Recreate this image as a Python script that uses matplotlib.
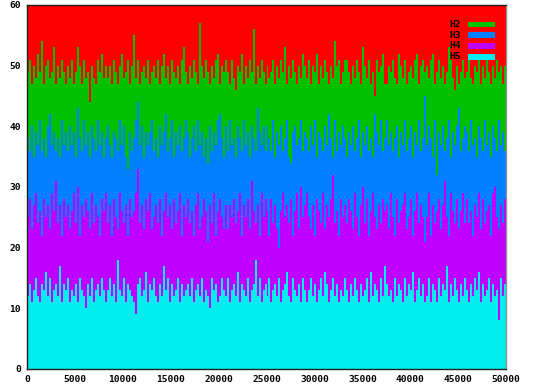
import numpy as np
import matplotlib
matplotlib.use("Agg")
import matplotlib.pyplot as plt
from matplotlib.patches import Rectangle

x_max = 50000
y_max = 60
x_ticks = [0, 5000, 10000, 15000, 20000, 25000, 30000, 35000, 40000, 45000, 50000]
y_ticks = [0, 10, 20, 30, 40, 50, 60]
labels = ["H2", "H3", "H4", "H5"]
colors = {"H1": "#ff0000", "H2": "#00c000", "H3": "#0080ff", "H4": "#c000ff", "H5": "#00eeee"}

# cumulative (stacked) top of each series
top_H5 = [12,14,11,13,15,12,11,14,13,16,12,15,11,13,14,12,17,11,14,13,
          15,11,13,12,14,11,15,13,12,10,14,12,15,11,13,14,12,15,13,11,
          13,15,12,14,11,18,13,12,15,11,14,13,12,11,9,14,15,12,13,16,
          11,14,13,15,12,11,14,12,17,13,15,11,14,12,13,15,11,14,12,13,
          14,12,15,11,13,14,12,15,11,13,12,10,15,13,14,11,12,15,13,12,
          15,11,13,14,12,16,11,14,13,12,15,11,13,14,18,12,15,11,13,14,
          12,15,11,13,14,12,15,11,13,14,16,12,11,15,13,12,14,11,15,13,
          11,13,15,12,14,11,13,15,12,16,14,11,13,15,12,14,11,13,12,15,
          13,11,14,12,15,13,11,14,12,13,15,11,16,12,14,13,11,15,12,17,
          14,12,13,11,15,12,14,13,11,15,12,14,13,16,11,13,15,12,14,11,
          12,15,11,14,13,11,15,12,14,13,17,11,14,12,15,13,11,14,12,15,
          13,11,14,12,15,13,16,11,14,12,13,15,11,14,12,13,8,15,12,14]
top_H4 = [25,28,23,27,29,24,26,22,28,25,27,23,29,26,31,24,27,22,28,25,
          27,23,26,29,24,30,22,27,25,28,26,23,29,24,27,25,22,28,26,29,
          24,27,22,28,25,23,29,26,24,27,22,28,25,26,29,33,24,27,23,28,
          26,29,23,25,27,24,28,22,26,29,25,27,23,28,24,26,29,22,27,25,
          28,24,26,22,27,29,23,25,28,26,21,27,24,29,22,26,28,25,23,27,
          23,27,25,28,24,26,29,22,27,25,28,23,31,26,24,27,22,29,25,28,
          26,22,28,24,27,23,20,26,29,25,27,24,28,22,26,29,23,30,25,27,
          29,25,23,27,22,28,26,24,29,23,27,25,28,32,24,26,22,28,25,27,
          24,28,26,23,29,25,22,27,30,24,28,22,26,29,25,23,27,24,28,26,
          27,23,29,25,22,28,24,26,27,29,23,25,28,22,26,29,24,27,25,21,
          25,29,22,27,24,26,28,23,27,31,25,22,29,26,24,28,23,26,29,24,
          28,24,26,22,27,25,29,23,28,24,26,27,22,29,30,25,23,27,24,28]
top_H3 = [38,36,40,35,39,37,41,36,38,35,40,42,37,39,36,38,35,41,37,39,
          36,40,37,39,35,43,38,36,41,37,39,35,40,38,36,41,37,39,35,38,
          40,37,35,39,38,36,41,37,40,35,33,39,36,38,41,44,37,40,35,39,
          37,39,41,36,38,35,40,37,39,42,36,38,41,35,39,37,40,36,38,41,
          39,35,38,40,36,41,37,39,35,38,34,40,36,39,37,41,42,38,35,40,
          36,41,37,38,35,40,38,36,41,37,39,35,40,38,36,43,39,37,40,36,
          40,38,36,41,35,39,37,40,36,38,41,35,34,39,40,37,38,41,36,39,
          38,36,40,37,41,35,39,38,36,40,37,42,38,35,41,36,39,37,40,38,
          35,39,37,40,36,38,41,35,39,37,40,36,38,35,42,39,37,41,36,38,
          41,37,39,36,38,40,35,39,37,41,36,38,40,35,39,37,41,36,38,45,
          37,40,38,35,41,32,39,37,40,36,38,41,35,39,37,40,43,36,38,40,
          39,36,41,37,38,35,40,38,36,41,37,39,35,40,38,36,41,37,39,36]
top_H2 = [49,51,47,50,48,52,49,54,47,50,51,48,49,53,47,50,48,51,49,47,
          50,48,51,47,49,53,50,47,51,48,49,44,50,48,47,51,49,52,48,50,
          48,50,47,51,49,47,50,52,48,49,51,47,50,55,48,51,47,49,50,48,
          51,47,49,50,48,51,47,50,52,48,50,47,51,49,48,50,47,51,53,49,
          47,50,48,51,49,47,57,50,48,51,49,47,50,48,51,52,47,50,49,51,
          49,47,51,48,46,50,49,52,47,50,48,51,49,56,47,50,48,51,49,47,
          50,48,49,51,47,50,48,51,49,53,47,50,48,51,49,47,50,48,52,50,
          48,51,47,50,49,52,47,50,48,51,49,47,50,48,54,50,51,47,49,51,
          51,49,47,50,48,51,49,47,53,50,48,51,47,49,45,51,49,50,52,47,
          47,50,49,51,48,47,52,50,48,51,47,49,50,48,51,52,47,50,51,49,
          50,48,51,52,47,49,51,48,50,47,49,53,51,48,46,50,47,49,51,48,
          49,51,48,47,50,49,52,47,50,48,51,49,47,50,48,51,49,50,47,50]

tops = {"H5": top_H5, "H4": top_H4, "H3": top_H3, "H2": top_H2}
n = len(top_H5)
x = np.linspace(0, x_max, n + 1)

W, H = 533, 392
fig = plt.figure(figsize=(W / 100, H / 100), dpi=100)
ax = fig.add_axes([27 / W, 1 - 369 / H, (506 - 27) / W, (369 - 5) / H])
ax.set_facecolor(colors["H1"])

base = np.zeros(n + 1)
for name in ["H5", "H4", "H3", "H2"]:
    t = np.array(tops[name], dtype=float)
    t = np.append(t, t[-1])
    ax.fill_between(x, base, t, step="post", color=colors[name], linewidth=0)
    base = t

ax.set_xlim(0, x_max)
ax.set_ylim(0, y_max)
ax.set_xticks(x_ticks)
ax.set_yticks(y_ticks)
font = {"family": "DejaVu Sans Mono", "weight": "bold", "size": 6.8}
ax.set_xticklabels([str(t) for t in x_ticks], fontdict=font)
ax.set_yticklabels([str(t) for t in y_ticks], fontdict=font)
ax.tick_params(length=0, pad=4.5)
for s in ["left", "bottom", "top"]:
    ax.spines[s].set_color("#202020")
    ax.spines[s].set_linewidth(1)
ax.spines["right"].set_color("#909090")
ax.spines["right"].set_linewidth(1)

# legend
for i, name in enumerate(labels):
    yc = 24.3 + i * 10.8
    fig.text(461 / W, 1 - yc / H, name, ha="right", va="center", fontdict=font)
    fig.add_artist(Rectangle((468 / W, 1 - (yc + 2.8) / H), 27 / W, 5.6 / H,
                             transform=fig.transFigure, facecolor=colors[name],
                             edgecolor="none"))

fig.savefig("out.png", dpi=100)
